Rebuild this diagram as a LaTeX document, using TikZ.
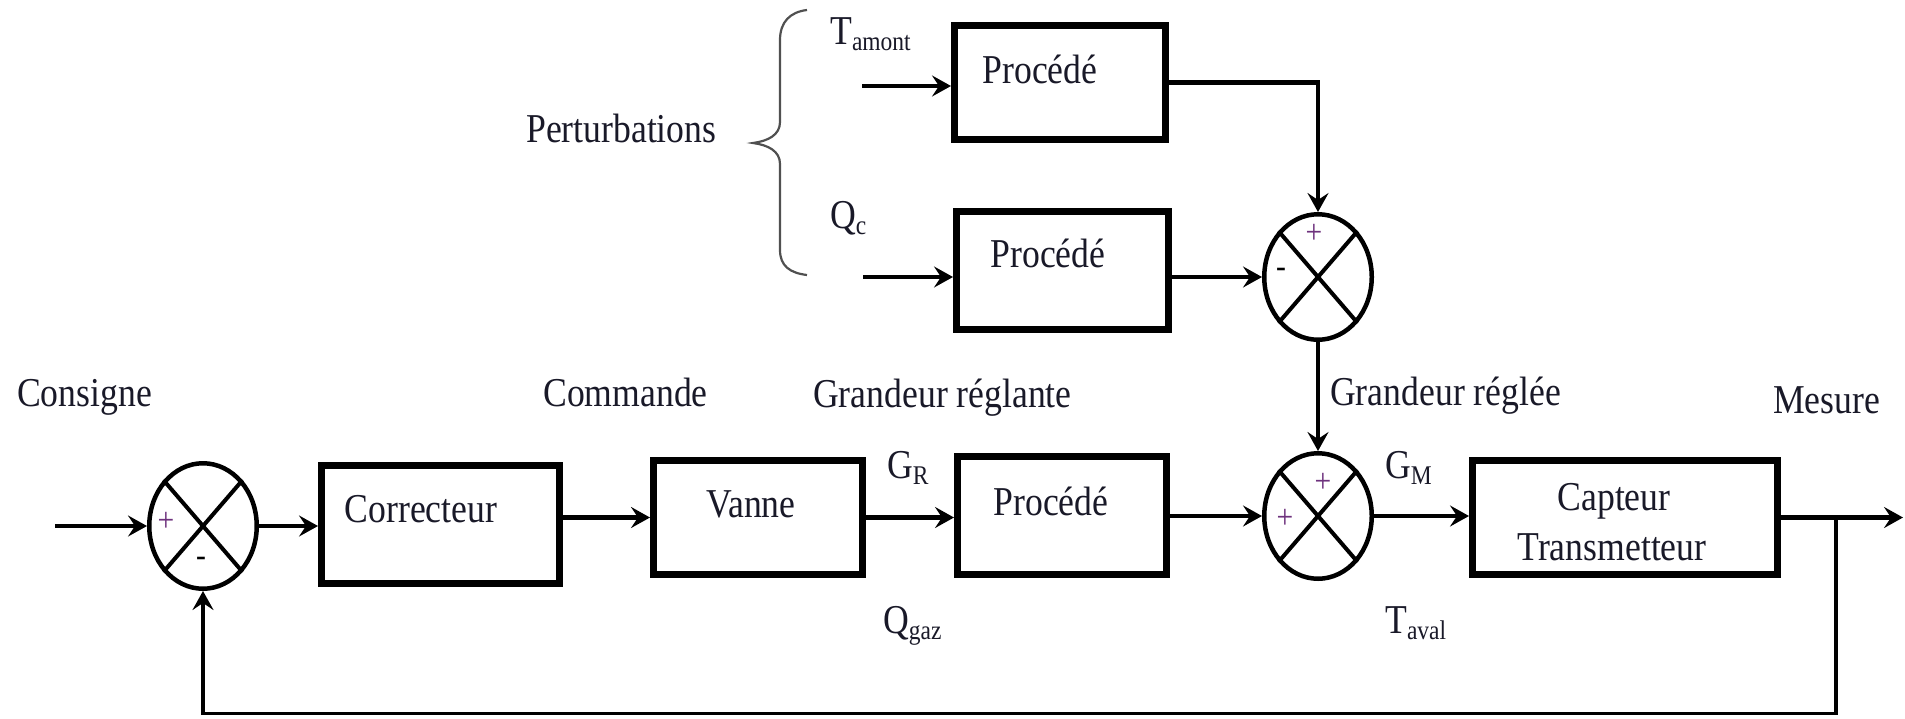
\documentclass[tikz,border=0pt]{standalone}
\usepackage{fontspec}
\setmainfont{Liberation Serif}[FakeStretch=0.87]
\usetikzlibrary{arrows.meta,shapes.geometric}
\definecolor{txt}{RGB}{25,25,40}
\definecolor{sgn}{RGB}{110,50,125}
\newcommand{\sbs}[1]{\raisebox{-6pt}{\fontsize{27}{27}\selectfont #1}}
\tikzset{
  blk/.style={draw=black, line width=7pt, inner sep=0pt, fill=white},
  sumnode/.style={ellipse, draw=black, line width=4.5pt, minimum width=107.5pt, minimum height=125.5pt, inner sep=0pt},
  conn/.style={line width=4.5pt, -{Stealth[length=19pt,width=21pt,inset=7pt]}},
  lbl/.style={text=txt, inner sep=0pt, font=\fontsize{41}{45}\selectfont},
  sg/.style={inner sep=0pt, font=\fontsize{34}{34}\selectfont},
  bracestyle/.style={draw={rgb,255:red,80;green,80;blue,80}, line width=2.2pt}
}
\begin{document}
\begin{tikzpicture}[x=1pt,y=-1pt]
\useasboundingbox (0,0) rectangle (1905,718);
% blocks
\node[blk, minimum width=238pt, minimum height=118pt] (corr) at (440.5,524.5) {};
\node[blk, minimum width=209pt, minimum height=114pt] (vanne) at (758,517.5) {};
\node[blk, minimum width=209pt, minimum height=118pt] (proc) at (1062,515.5) {};
\node[blk, minimum width=305pt, minimum height=114pt] (capt) at (1625,517.5) {};
\node[blk, minimum width=211pt, minimum height=114pt] (proc1) at (1060,82.5) {};
\node[blk, minimum width=212pt, minimum height=118pt] (proc2) at (1062.5,270) {};
% summing junctions
\node[sumnode] (sum1) at (203,526) {};
\node[sumnode] (sum2) at (1318,277) {};
\node[sumnode] (sum3) at (1318,516) {};
\foreach \s in {sum1,sum2,sum3}{
  \draw[line width=4pt] (\s.north east) -- (\s.south west);
  \draw[line width=4pt] (\s.north west) -- (\s.south east);
}
% signs
\node[sg, text=sgn] (s1p) at (166,522) {+};
\node[sg, text=black] (s1m) at (201,562) {-};
\node[sg, text=sgn] (s2p) at (1314,234) {+};
\node[sg, text=black] (s2m) at (1281,273) {-};
\node[sg, text=sgn] (s3p) at (1323,483) {+};
\node[sg, text=sgn] (s3l) at (1285,519) {+};
% texts in blocks
\node[lbl, anchor=base] (tcorr) at (421,522) {Correcteur};
\node[lbl, anchor=base] (tvanne) at (751,517) {Vanne};
\node[lbl, anchor=base] (tproc) at (1051,515) {Procédé};
\node[lbl, anchor=base] (tcapt1) at (1614,510) {Capteur};
\node[lbl, anchor=base] (tcapt2) at (1612,560) {Transmetteur};
\node[lbl, anchor=base] (tproc1) at (1040,83) {Procédé};
\node[lbl, anchor=base] (tproc2) at (1048,267) {Procédé};
% labels
\node[lbl, anchor=base west] (consigne) at (17,406) {Consigne};
\node[lbl, anchor=base west] (commande) at (543,406) {Commande};
\node[lbl, anchor=base west] (greglante) at (813,407) {Grandeur réglante};
\node[lbl, anchor=base west] (greglee) at (1330,405) {Grandeur réglée};
\node[lbl, anchor=base west] (mesure) at (1773,413) {Mesure};
\node[lbl, anchor=base west] (perturb) at (526,142) {Perturbations};
\node[lbl, anchor=base west] (tamont) at (830,44) {T\sbs{amont}};
\node[lbl, anchor=base west] (qc) at (830,228) {Q\sbs{c}};
\node[lbl, anchor=base west] (gr) at (887,478) {G\sbs{R}};
\node[lbl, anchor=base west] (qgaz) at (883,633) {Q\sbs{gaz}};
\node[lbl, anchor=base west] (gm) at (1385,478) {G\sbs{M}};
\node[lbl, anchor=base west] (taval) at (1385,633) {T\sbs{aval}};
% free ends
\coordinate (in) at (55,526);
\coordinate (out) at (1903,517.5);
\coordinate (br) at (1836,517.5);
\coordinate (t1) at (862,86);
\coordinate (q1) at (863,277);
% main chain
\draw[conn] (in) -- (sum1.west);
\draw[conn] (sum1.east) -- (sum1.east -| corr.west);
\draw[conn] (corr.east |- vanne.west) -- (vanne.west);
\draw[conn] (vanne.east) -- (vanne.east -| proc.west);
\draw[conn] (proc.east |- sum3.west) -- (sum3.west);
\draw[conn] (sum3.east) -- (sum3.east -| capt.west);
\draw[conn] (capt.east) -- (out);
\draw[conn, line width=3.5pt] (br) -- ++(0,196) -| (sum1.south);
% disturbance branch
\draw[conn] (t1) -- (t1 -| proc1.west);
\draw[conn] (proc1.east) -| (sum2.north);
\draw[conn] (q1) -- (q1 -| proc2.west);
\draw[conn] (proc2.east |- sum2.west) -- (sum2.west);
\draw[conn] (sum2.south) -- (sum3.north);
% brace
\draw[bracestyle] (807,10) .. controls (790,12) and (780,22) .. (780,40) -- (780,122) .. controls (780,135) and (768,141) .. (753,143) .. controls (768,145) and (780,151) .. (780,164) -- (780,250) .. controls (780,266) and (790,273) .. (807,275);
\end{tikzpicture}
\end{document}
